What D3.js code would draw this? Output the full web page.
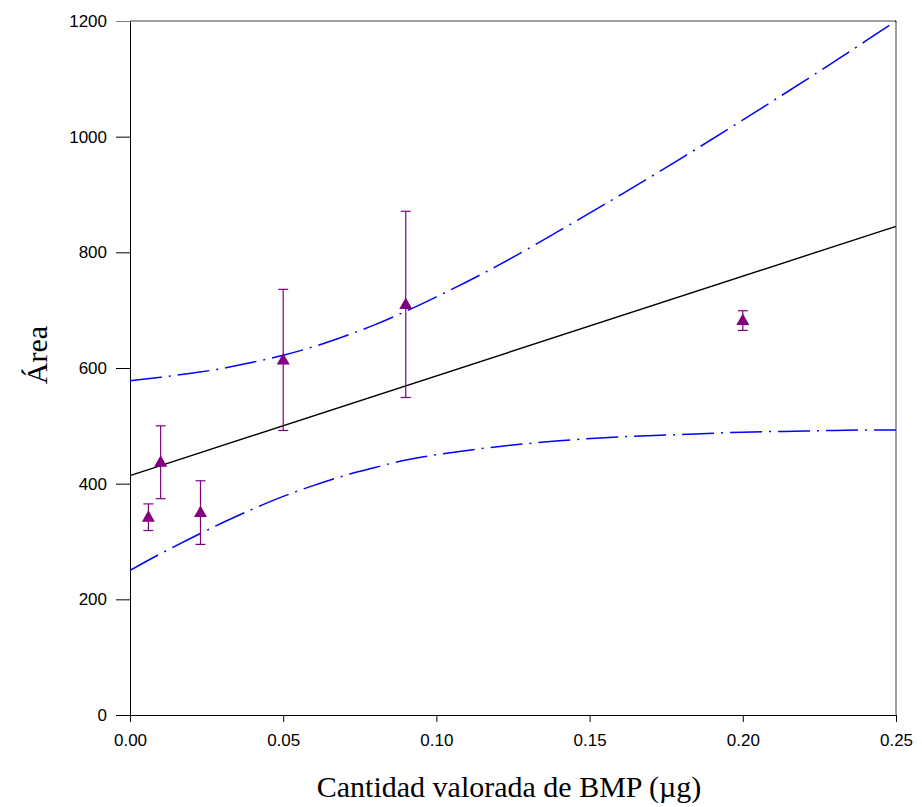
<!DOCTYPE html>
<html>
<head>
<meta charset="utf-8">
<script src="https://cdn.jsdelivr.net/npm/d3@7"></script>
<style>
  html, body { margin: 0; padding: 0; background: #fff; }
  svg { display: block; }
</style>
</head>
<body>
<svg id="chart" width="922" height="807"></svg>
<script>
// ---- Data ----
const pointX   = [0.006, 0.010, 0.023, 0.050, 0.090, 0.200];
const pointY   = [342, 437, 350, 614, 710, 682];
const pointErr = [23, 63, 55, 122, 161, 17];

const fitX = [0, 0.25];
const fitY = [414, 845];

const bandX     = [0, 0.01, 0.02, 0.03, 0.04, 0.05, 0.06, 0.07, 0.08, 0.09, 0.10, 0.12, 0.14, 0.16, 0.18, 0.20, 0.22, 0.24, 0.25];
const bandUpper = [578, 584, 591, 599, 610, 622, 637, 655, 675, 698, 723, 777, 837, 899, 963, 1029, 1096, 1165, 1200];
const bandLower = [250, 279, 306, 332, 356, 378, 397, 414, 428, 441, 450, 464, 474, 481, 485, 489, 491, 493, 493];

const xTicks = [0, 0.05, 0.10, 0.15, 0.20, 0.25];
const yTicks = [0, 200, 400, 600, 800, 1000, 1200];

const xTitle = "Cantidad valorada de BMP (\u00B5g)";
const yTitle = "\u00C1rea";

// ---- Layout ----
const L = 130, R = 896, T = 21, B = 715;
const svg = d3.select("#chart");

const x = d3.scaleLinear().domain([0, 0.25]).range([L, R]);
const y = d3.scaleLinear().domain([0, 1200]).range([B, T]);

// frame (top/right gray)
svg.append("line").attr("x1", L).attr("x2", R).attr("y1", T).attr("y2", T)
  .attr("stroke", "#808080").attr("stroke-width", 1.5);
svg.append("line").attr("x1", R).attr("x2", R).attr("y1", T).attr("y2", B)
  .attr("stroke", "#808080").attr("stroke-width", 1.5);

// axes
const xAxis = d3.axisBottom(x).tickValues(xTicks).tickFormat(d3.format(".2f"))
  .tickSizeInner(7).tickSizeOuter(0).tickPadding(12);
const yAxis = d3.axisLeft(y).tickValues(yTicks).tickFormat(d3.format("d"))
  .tickSizeInner(14).tickSizeOuter(0).tickPadding(9);

const gx = svg.append("g").attr("transform", `translate(0,${B})`).call(xAxis);
const gy = svg.append("g").attr("transform", `translate(${L},0)`).call(yAxis);
[gx, gy].forEach(g => {
  g.select(".domain").attr("stroke", "#000").attr("stroke-width", 1);
  g.selectAll(".tick line").attr("stroke", "#000").attr("stroke-width", 1);
  g.selectAll(".tick text").attr("fill", "#000")
    .style("font-family", "'Liberation Sans', Arial, sans-serif").style("font-size", "17px");
});
gx.select(".domain").attr("d", `M${L - 14},0.5H${R}`);
gy.select(".tick:last-of-type line").attr("stroke", "#808080");

// confidence bands
const bandLine = d3.line().x(d => x(d[0])).y(d => y(d[1])).curve(d3.curveMonotoneX);
[bandUpper, bandLower].forEach(arr => {
  svg.append("path")
    .datum(bandX.map((v, i) => [v, arr[i]]))
    .attr("d", bandLine)
    .attr("fill", "none").attr("stroke", "#0000ff").attr("stroke-width", 1.5)
    .attr("stroke-dasharray", "32,7,2,7");
});

// regression line
svg.append("path")
  .datum(fitX.map((v, i) => [v, fitY[i]]))
  .attr("d", d3.line().x(d => x(d[0])).y(d => y(d[1])))
  .attr("fill", "none").attr("stroke", "#000").attr("stroke-width", 1.4);

// error bars
const purple = "#800080";
const pts = pointX.map((v, i) => ({ x: v, y: pointY[i], e: pointErr[i] }));
const eb = svg.append("g").attr("stroke", purple).attr("stroke-width", 1.2);
pts.forEach(p => {
  const cx = x(p.x);
  eb.append("line").attr("x1", cx).attr("x2", cx).attr("y1", y(p.y + p.e)).attr("y2", y(p.y - p.e));
  eb.append("line").attr("x1", cx - 5).attr("x2", cx + 5).attr("y1", y(p.y + p.e)).attr("y2", y(p.y + p.e));
  eb.append("line").attr("x1", cx - 5).attr("x2", cx + 5).attr("y1", y(p.y - p.e)).attr("y2", y(p.y - p.e));
});

// triangle markers
svg.append("g").selectAll("path").data(pts).join("path")
  .attr("d", d => {
    const cx = x(d.x), cy = y(d.y);
    return `M${cx},${cy - 7}L${cx + 6.5},${cy + 4.5}L${cx - 6.5},${cy + 4.5}Z`;
  })
  .attr("fill", purple);

// titles
svg.append("text").attr("x", 509).attr("y", 797).attr("text-anchor", "middle")
  .style("font-family", "'Liberation Serif', 'Times New Roman', serif").style("font-size", "30px")
  .text(xTitle);
svg.append("text").attr("transform", "translate(47,355) rotate(-90)").attr("text-anchor", "middle")
  .style("font-family", "'Liberation Serif', 'Times New Roman', serif").style("font-size", "30px")
  .text(yTitle);
</script>
</body>
</html>
